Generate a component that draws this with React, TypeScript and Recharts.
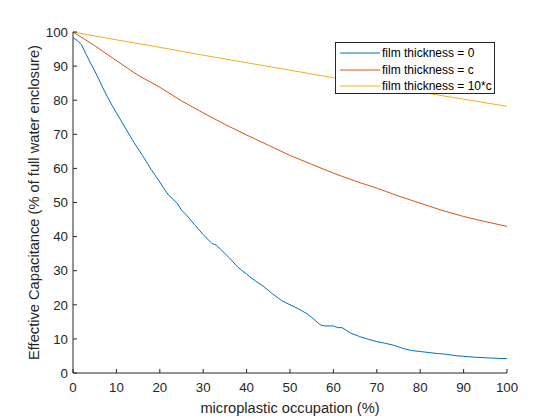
import React from 'react';
import { LineChart, Line, XAxis, YAxis, Legend, Label } from 'recharts';

const xTicks = [0, 10, 20, 30, 40, 50, 60, 70, 80, 90, 100];
const yTicks = [0, 10, 20, 30, 40, 50, 60, 70, 80, 90, 100];

const blueX = [0, 1, 2, 3, 4, 5, 6, 7, 8, 9, 10, 12, 14, 16, 18, 20, 21, 22, 24, 25, 26, 28, 30, 32, 33, 34, 36, 38, 40, 42, 44, 46, 48, 50, 52, 54, 55, 57, 58, 60, 61, 62, 64, 66, 68, 70, 72, 74, 76, 78, 80, 82, 84, 86, 88, 90, 93, 96, 100];
const blueY = [98.3, 97.5, 96.2, 93.5, 91, 88.6, 86, 83.3, 80.8, 78.5, 76.3, 72, 67.7, 63.8, 59.7, 56, 54, 52.2, 49.8, 47.8, 46.5, 43.5, 40.6, 38.0, 37.5, 36.3, 33.8, 31.0, 29.0, 27.0, 25.3, 23.2, 21.3, 20.0, 18.8, 17.3, 16.3, 14.1, 13.8, 13.8, 13.3, 13.3, 11.7, 10.7, 9.9, 9.2, 8.7, 8.1, 7.2, 6.6, 6.3, 6.0, 5.7, 5.5, 5.1, 4.9, 4.6, 4.4, 4.2];

const redX = [0, 5, 10, 15, 20, 25, 30, 35, 40, 45, 50, 55, 60, 65, 70, 75, 80, 85, 90, 95, 100];
const redY = [100, 96, 91.6, 87.3, 83.8, 79.8, 76.3, 72.9, 69.8, 66.8, 63.8, 61.2, 58.6, 56.3, 54.2, 51.9, 49.8, 47.7, 45.9, 44.4, 43];

const yellowX = [0, 10, 20, 30, 40, 50, 60, 70, 80, 90, 100];
const yellowY = [100, 97.7, 95.5, 93.2, 91.0, 88.8, 86.6, 84.5, 82.4, 80.3, 78.2];

const seriesNames = ['film thickness = 0', 'film thickness = c', 'film thickness = 10*c'];
const seriesColors = ['#0072BD', '#D95319', '#EDB120'];

const xLabel = 'microplastic occupation (%)';
const yLabel = 'Effective Capacitance (% of full water enclosure)';

const toData = (xs: number[], ys: number[]) => xs.map((x, i) => ({ x, y: ys[i] }));
const blueData = toData(blueX, blueY);
const redData = toData(redX, redY);
const yellowData = toData(yellowX, yellowY);

const FONT = '"Liberation Sans", Arial, Helvetica, sans-serif';
const AXIS = '#262626';

const LegendBox = (props: any) => {
  const payload = [...(props.payload || [])].sort(
    (a: any, b: any) => seriesNames.indexOf(a.value) - seriesNames.indexOf(b.value)
  );
  return (
    <div
      style={{
        border: `1px solid ${AXIS}`,
        background: '#fff',
        boxSizing: 'border-box',
        width: 160,
        height: 52,
        padding: '2px 0 0 0',
        fontFamily: FONT,
        fontSize: 12,
        color: '#000',
      }}
    >
      {payload.map((p: any, i: number) => (
        <div key={i} style={{ display: 'flex', alignItems: 'center', height: 16.4, whiteSpace: 'nowrap' }}>
          <svg width={46} height={4} style={{ flex: 'none' }}>
            <line x1={4} x2={44} y1={2} y2={2} stroke={p.color} strokeWidth={1} />
          </svg>
          <span>{p.value}</span>
        </div>
      ))}
    </div>
  );
};

const YLab = (props: any) => {
  const vb = props.viewBox || {};
  const cx = vb.x + 34;
  const cy = vb.y + vb.height / 2;
  return (
    <text
      x={cx}
      y={cy}
      transform={`rotate(-90 ${cx} ${cy})`}
      textAnchor="middle"
      dominantBaseline="central"
      fill={AXIS}
      fontSize={14.67}
      fontFamily={FONT}
    >
      {yLabel}
    </text>
  );
};

const XLab = (props: any) => {
  const vb = props.viewBox || {};
  const cx = vb.x + vb.width / 2;
  const cy = vb.y + 40;
  return (
    <text x={cx} y={cy} textAnchor="middle" fill={AXIS} fontSize={14.67} fontFamily={FONT}>
      {xLabel}
    </text>
  );
};

export default function App() {
  const tickStyle = { fill: AXIS, fontSize: 13.3, fontFamily: FONT };
  const blank = () => '';
  return (
    <div style={{ position: 'absolute', left: 0, top: 0, width: 560, height: 420, background: '#fff' }}>
      <LineChart width={560} height={420} margin={{ top: 32, right: 53, left: 0, bottom: 0 }}>
        <XAxis
          xAxisId="b"
          dataKey="x"
          type="number"
          domain={[0, 100]}
          ticks={xTicks}
          interval={0}
          height={47}
          tickSize={-4}
          tickMargin={14}
          axisLine={{ stroke: AXIS }}
          tickLine={{ stroke: AXIS }}
          tick={tickStyle}
          allowDuplicatedCategory={false}
        >
          <Label content={<XLab />} />
        </XAxis>
        <XAxis
          xAxisId="t"
          orientation="top"
          dataKey="x"
          type="number"
          domain={[0, 100]}
          ticks={xTicks}
          interval={0}
          height={0}
          tickSize={-4}
          axisLine={{ stroke: AXIS }}
          tickLine={{ stroke: AXIS }}
          tickFormatter={blank}
          allowDuplicatedCategory={false}
        />
        <YAxis
          yAxisId="l"
          type="number"
          domain={[0, 100]}
          ticks={yTicks}
          interval={0}
          width={73}
          tickSize={-4}
          tickMargin={9}
          axisLine={{ stroke: AXIS }}
          tickLine={{ stroke: AXIS }}
          tick={tickStyle}
        >
          <Label content={<YLab />} />
        </YAxis>
        <YAxis
          yAxisId="r"
          orientation="right"
          type="number"
          domain={[0, 100]}
          ticks={yTicks}
          interval={0}
          width={0}
          tickSize={-4}
          axisLine={{ stroke: AXIS }}
          tickLine={{ stroke: AXIS }}
          tickFormatter={blank}
        />
        <Line xAxisId="b" yAxisId="l" data={blueData} dataKey="y" name={seriesNames[0]} stroke={seriesColors[0]} strokeWidth={1} dot={false} isAnimationActive={false} type="linear" />
        <Line xAxisId="b" yAxisId="l" data={redData} dataKey="y" name={seriesNames[1]} stroke={seriesColors[1]} strokeWidth={1} dot={false} isAnimationActive={false} type="linear" />
        <Line xAxisId="b" yAxisId="l" data={yellowData} dataKey="y" name={seriesNames[2]} stroke={seriesColors[2]} strokeWidth={1} dot={false} isAnimationActive={false} type="linear" />
        <Legend
          layout="vertical"
          align="center"
          verticalAlign="middle"
          content={<LegendBox />}
          wrapperStyle={{ position: 'absolute', left: 335, top: 42, width: 160, height: 52 }}
        />
      </LineChart>
    </div>
  );
}
